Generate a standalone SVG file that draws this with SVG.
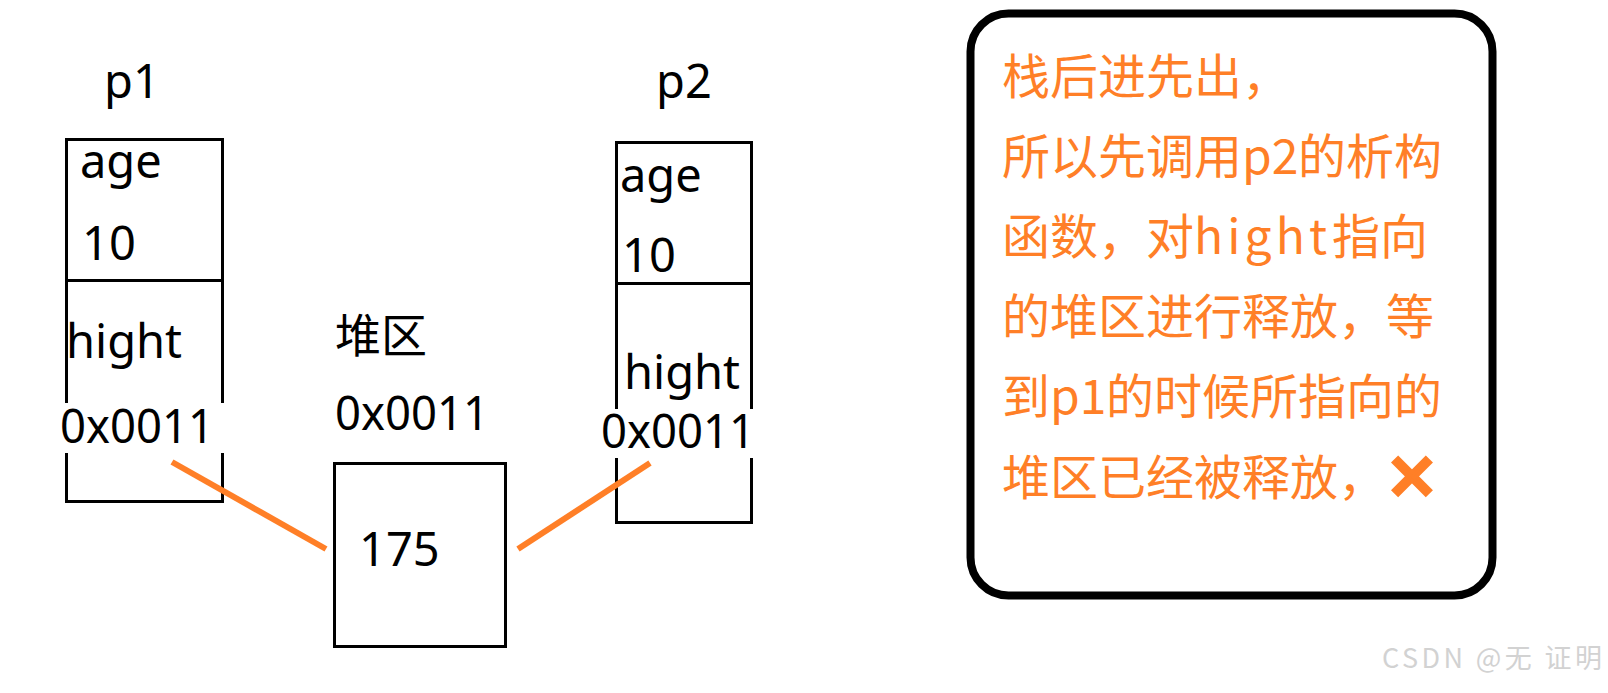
<svg xmlns="http://www.w3.org/2000/svg" width="1608" height="693" viewBox="0 0 1608 693">
  <style>
    .lbl { font-family: "Noto Sans", "Liberation Sans", sans-serif; font-size: 47px; fill: #000; }
    .cjk { font-family: "Noto Sans CJK SC", "Noto Sans", sans-serif; font-size: 46px; fill: #000; }
    .box { fill: none; stroke: #000; stroke-width: 3; }
    .mask { fill: #fff; stroke: none; }
    .note { font-family: "Noto Sans CJK SC", "Noto Sans", sans-serif; font-size: 48px; fill: #ff7f27; }
    .conn { stroke: #ff7f27; stroke-width: 6; fill: none; }
    .wm { font-family: "Noto Sans CJK SC", "Liberation Sans", sans-serif; font-size: 27px; fill: #d2d2d2; }
  </style>
  <rect width="1608" height="693" fill="#fff"/>

  <g id="node-p1">
    <text class="lbl" x="104" y="98">p1</text>
    <rect class="box" x="66.5" y="139.5" width="156" height="362"/>
    <line class="box" x1="66.5" y1="280.5" x2="222.5" y2="280.5"/>
    <text class="lbl" x="80" y="178">age</text>
    <text class="lbl" x="82" y="260">10</text>
    <text class="lbl" x="66" y="358">hight</text>
    <rect class="mask" x="58" y="403" width="170" height="50"/>
    <text class="lbl" x="60" y="443" textLength="154" lengthAdjust="spacingAndGlyphs">0x0011</text>
  </g>

  <g id="node-p2">
    <text class="lbl" x="656" y="98">p2</text>
    <rect class="box" x="616.5" y="142.5" width="135" height="380"/>
    <line class="box" x1="616.5" y1="283.5" x2="751.5" y2="283.5"/>
    <text class="lbl" x="620" y="192">age</text>
    <text class="lbl" x="622" y="272">10</text>
    <text class="lbl" x="624" y="389">hight</text>
    <rect class="mask" x="598" y="409" width="162" height="49"/>
    <text class="lbl" x="601" y="448" textLength="154" lengthAdjust="spacingAndGlyphs">0x0011</text>
  </g>

  <g id="node-heap">
    <text class="cjk" x="335" y="352">堆区</text>
    <text class="lbl" x="335" y="430" textLength="154" lengthAdjust="spacingAndGlyphs">0x0011</text>
    <rect class="box" x="334.5" y="463.5" width="171" height="183"/>
    <text class="lbl" x="359" y="566">175</text>
  </g>

  <g id="connectors">
    <line class="conn" x1="172" y1="462" x2="326" y2="549"/>
    <line class="conn" x1="518" y1="549" x2="650" y2="463"/>
  </g>

  <g id="node-note">
    <rect x="970.5" y="13.5" width="522" height="582" rx="38" ry="38" fill="none" stroke="#000" stroke-width="8"/>
    <text class="note" x="1002" y="94">栈后进先出，</text>
    <text class="note" x="1002" y="174">所以先调用<tspan>p2</tspan><tspan x="1298">的析构</tspan></text>
    <text class="note" x="1002" y="254">函数，对<tspan textLength="133" lengthAdjust="spacing">hight</tspan><tspan x="1332">指向</tspan></text>
    <text class="note" x="1002" y="334">的堆区进行释放，等</text>
    <text class="note" x="1002" y="414">到<tspan>p1</tspan><tspan x="1106">的时候所指向的</tspan></text>
    <text class="note" x="1002" y="495">堆区已经被释放，</text>
    <text x="1386" y="499" font-family="DejaVu Sans, sans-serif" font-size="62px" fill="#ff7f27" stroke="#ff7f27" stroke-width="4">✕</text>
  </g>

  <g id="watermark">
    <text class="wm" x="1382" y="668" textLength="220" lengthAdjust="spacing">CSDN @无 证明</text>
  </g>
</svg>
